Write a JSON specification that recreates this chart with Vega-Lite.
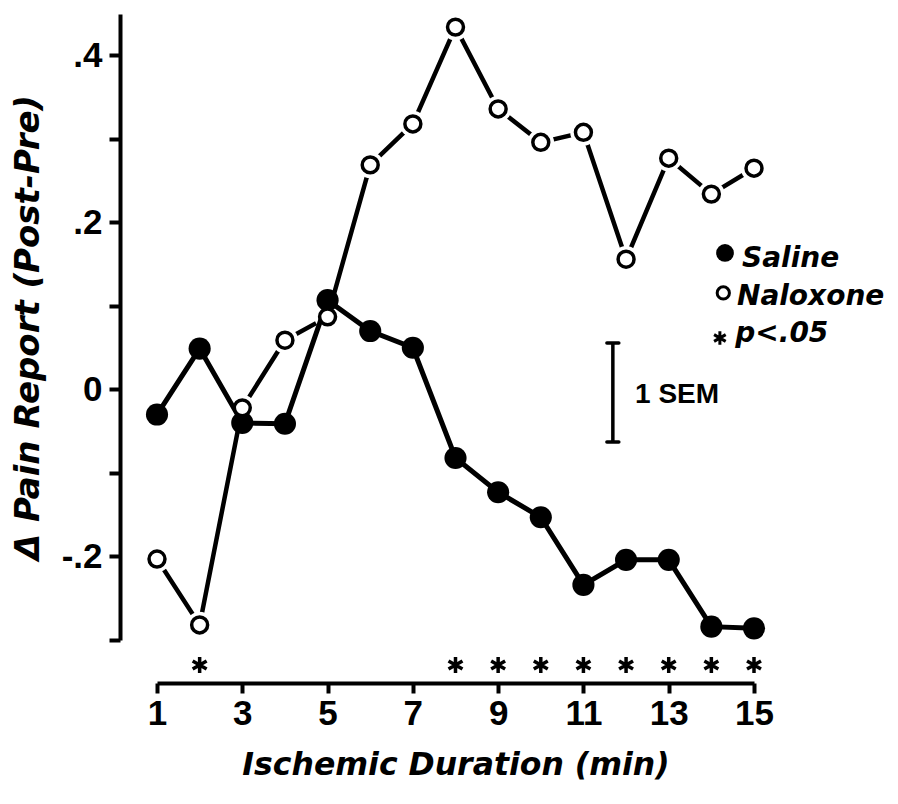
{
  "$schema": "https://vega.github.io/schema/vega-lite/v6.json",
  "autosize": {"type": "none"},
  "width": 597,
  "height": 626,
  "padding": {"left": 157, "top": 14, "right": 144, "bottom": 164},
  "background": "white",
  "config": {
    "view": {"stroke": null},
    "font": "Liberation Sans",
    "axis": {
      "grid": false,
      "domainColor": "black",
      "domainWidth": 4,
      "tickColor": "black",
      "tickWidth": 4,
      "labelColor": "black",
      "labelFont": "Liberation Sans",
      "labelFontWeight": "bold",
      "labelFontSize": 35,
      "titleColor": "black",
      "titleFont": "DejaVu Sans",
      "titleFontWeight": "bold",
      "titleFontStyle": "italic",
      "titleFontSize": 31.5,
      "labelFlush": false,
      "labelOverlap": false
    }
  },
  "datasets": {
    "series": [
      {"minute": 1, "change": -0.030, "group": "Saline"},
      {"minute": 2, "change": 0.049, "group": "Saline"},
      {"minute": 3, "change": -0.040, "group": "Saline"},
      {"minute": 4, "change": -0.041, "group": "Saline"},
      {"minute": 5, "change": 0.107, "group": "Saline"},
      {"minute": 6, "change": 0.070, "group": "Saline"},
      {"minute": 7, "change": 0.050, "group": "Saline"},
      {"minute": 8, "change": -0.082, "group": "Saline"},
      {"minute": 9, "change": -0.123, "group": "Saline"},
      {"minute": 10, "change": -0.153, "group": "Saline"},
      {"minute": 11, "change": -0.234, "group": "Saline"},
      {"minute": 12, "change": -0.204, "group": "Saline"},
      {"minute": 13, "change": -0.204, "group": "Saline"},
      {"minute": 14, "change": -0.284, "group": "Saline"},
      {"minute": 15, "change": -0.286, "group": "Saline"},
      {"minute": 1, "change": -0.203, "group": "Naloxone"},
      {"minute": 2, "change": -0.282, "group": "Naloxone"},
      {"minute": 3, "change": -0.022, "group": "Naloxone"},
      {"minute": 4, "change": 0.059, "group": "Naloxone"},
      {"minute": 5, "change": 0.087, "group": "Naloxone"},
      {"minute": 6, "change": 0.269, "group": "Naloxone"},
      {"minute": 7, "change": 0.318, "group": "Naloxone"},
      {"minute": 8, "change": 0.434, "group": "Naloxone"},
      {"minute": 9, "change": 0.336, "group": "Naloxone"},
      {"minute": 10, "change": 0.296, "group": "Naloxone"},
      {"minute": 11, "change": 0.308, "group": "Naloxone"},
      {"minute": 12, "change": 0.156, "group": "Naloxone"},
      {"minute": 13, "change": 0.277, "group": "Naloxone"},
      {"minute": 14, "change": 0.234, "group": "Naloxone"},
      {"minute": 15, "change": 0.265, "group": "Naloxone"}
    ],
    "significant": [
      {"minute": 2, "level": -0.33},
      {"minute": 8, "level": -0.33},
      {"minute": 9, "level": -0.33},
      {"minute": 10, "level": -0.33},
      {"minute": 11, "level": -0.33},
      {"minute": 12, "level": -0.33},
      {"minute": 13, "level": -0.33},
      {"minute": 14, "level": -0.33},
      {"minute": 15, "level": -0.33}
    ],
    "legendItems": [
      {"item": "Saline", "sx": 14.32, "sy": 0.1635, "tx": 14.72, "ty": 0.1467},
      {"item": "Naloxone", "sx": 14.28, "sy": 0.1156, "tx": 14.60, "ty": 0.1012},
      {"item": "p<.05", "sx": 14.20, "sy": 0.0617, "tx": 14.56, "ty": 0.0569}
    ],
    "sem": [
      {"x": 11.69, "lo": -0.0629, "hi": 0.0557, "capL": 11.55, "capR": 11.83, "tx": 12.21, "ty": -0.0162, "label": "1 SEM"}
    ]
  },
  "encoding": {
    "x": {
      "field": "minute", "type": "quantitative",
      "scale": {"domain": [1, 15], "nice": false, "zero": false},
      "axis": {
        "title": "Ischemic Duration (min)",
        "values": [1, 3, 5, 7, 9, 11, 13, 15],
        "offset": 43,
        "tickSize": 10,
        "labelPadding": 3,
        "titlePadding": 18
      }
    },
    "y": {
      "field": "change", "type": "quantitative",
      "scale": {"domain": [-0.3, 0.4497], "nice": false, "zero": false},
      "axis": {
        "title": "Δ Pain Report (Post-Pre)",
        "titleFontSize": 34,
        "values": [-0.3, -0.2, -0.1, 0, 0.1, 0.2, 0.3, 0.4],
        "labelExpr": "abs(datum.value-0.4)<0.001 ? '.4' : abs(datum.value-0.2)<0.001 ? '.2' : abs(datum.value)<0.001 ? '0' : abs(datum.value+0.2)<0.001 ? '-.2' : ''",
        "offset": 37,
        "tickSize": 11,
        "labelPadding": 7,
        "titlePadding": 16
      }
    }
  },
  "layer": [
    {
      "data": {"name": "series"},
      "transform": [{"filter": "datum.group == 'Naloxone'"}],
      "mark": {"type": "line", "color": "black", "strokeWidth": 4.5},
      "encoding": {"x": {"field": "minute", "type": "quantitative"}, "y": {"field": "change", "type": "quantitative"}}
    },
    {
      "data": {"name": "series"},
      "transform": [{"filter": "datum.group == 'Naloxone'"}],
      "mark": {"type": "point", "shape": "circle", "filled": true, "fill": "white", "opacity": 1, "size": 700, "strokeWidth": 0}
    },
    {
      "data": {"name": "series"},
      "transform": [{"filter": "datum.group == 'Saline'"}],
      "mark": {"type": "line", "color": "black", "strokeWidth": 5}
    },
    {
      "data": {"name": "series"},
      "transform": [{"filter": "datum.group == 'Saline'"}],
      "mark": {"type": "point", "shape": "circle", "filled": true, "fill": "black", "opacity": 1, "size": 490, "strokeWidth": 0}
    },
    {
      "data": {"name": "series"},
      "transform": [{"filter": "datum.group == 'Naloxone'"}],
      "mark": {"type": "point", "shape": "circle", "filled": false, "fill": "white", "fillOpacity": 1, "stroke": "black", "strokeWidth": 3.5, "opacity": 1, "size": 254}
    },
    {
      "data": {"name": "significant"},
      "mark": {"type": "point", "shape": "M0,-1L0,1M-0.866,-0.5L0.866,0.5M-0.866,0.5L0.866,-0.5", "filled": false, "stroke": "black", "strokeWidth": 3.5, "opacity": 1, "size": 260},
      "encoding": {"x": {"field": "minute", "type": "quantitative"}, "y": {"field": "level", "type": "quantitative"}}
    },
    {
      "data": {"name": "legendItems"},
      "transform": [{"filter": "datum.item == 'Saline'"}],
      "mark": {"type": "point", "shape": "circle", "filled": true, "fill": "black", "opacity": 1, "size": 314, "strokeWidth": 0},
      "encoding": {"x": {"field": "sx", "type": "quantitative"}, "y": {"field": "sy", "type": "quantitative"}}
    },
    {
      "data": {"name": "legendItems"},
      "transform": [{"filter": "datum.item == 'Naloxone'"}],
      "mark": {"type": "point", "shape": "circle", "filled": false, "fill": "white", "stroke": "black", "strokeWidth": 3, "opacity": 1, "size": 150},
      "encoding": {"x": {"field": "sx", "type": "quantitative"}, "y": {"field": "sy", "type": "quantitative"}}
    },
    {
      "data": {"name": "legendItems"},
      "transform": [{"filter": "datum.item == 'p<.05'"}],
      "mark": {"type": "point", "shape": "M0,-1L0,1M-0.866,-0.5L0.866,0.5M-0.866,0.5L0.866,-0.5", "filled": false, "stroke": "black", "strokeWidth": 3, "opacity": 1, "size": 180},
      "encoding": {"x": {"field": "sx", "type": "quantitative"}, "y": {"field": "sy", "type": "quantitative"}}
    },
    {
      "data": {"name": "legendItems"},
      "mark": {"type": "text", "align": "left", "baseline": "alphabetic", "fontSize": 28, "fontWeight": "bold", "fontStyle": "italic", "font": "DejaVu Sans", "color": "black"},
      "encoding": {"x": {"field": "tx", "type": "quantitative"}, "y": {"field": "ty", "type": "quantitative"}, "text": {"field": "item"}}
    },
    {
      "data": {"name": "sem"},
      "mark": {"type": "rule", "color": "black", "strokeWidth": 3.5},
      "encoding": {"x": {"field": "x", "type": "quantitative"}, "y": {"field": "lo", "type": "quantitative"}, "y2": {"field": "hi"}}
    },
    {
      "data": {"name": "sem"},
      "mark": {"type": "rule", "color": "black", "strokeWidth": 3.5, "strokeCap": "round"},
      "encoding": {"x": {"field": "capL", "type": "quantitative"}, "x2": {"field": "capR"}, "y": {"field": "lo", "type": "quantitative"}}
    },
    {
      "data": {"name": "sem"},
      "mark": {"type": "rule", "color": "black", "strokeWidth": 3.5, "strokeCap": "round"},
      "encoding": {"x": {"field": "capL", "type": "quantitative"}, "x2": {"field": "capR"}, "y": {"field": "hi", "type": "quantitative"}}
    },
    {
      "data": {"name": "sem"},
      "mark": {"type": "text", "align": "left", "baseline": "alphabetic", "fontSize": 28, "fontWeight": "bold", "font": "Liberation Sans", "color": "black"},
      "encoding": {"x": {"field": "tx", "type": "quantitative"}, "y": {"field": "ty", "type": "quantitative"}, "text": {"field": "label"}}
    }
  ]
}
